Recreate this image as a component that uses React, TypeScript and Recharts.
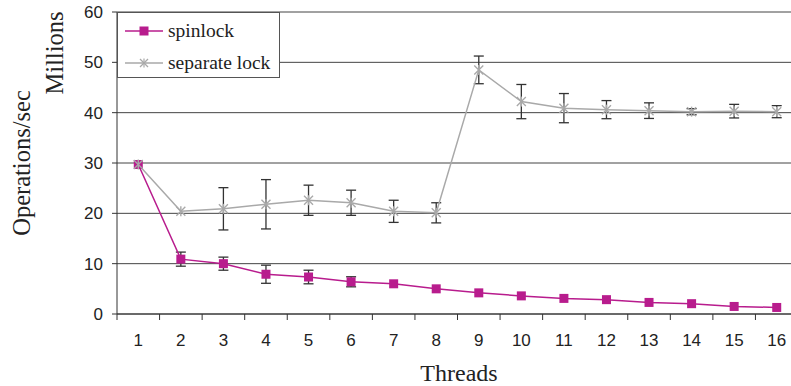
import { LineChart, Line, XAxis, YAxis, CartesianGrid, ErrorBar, Label } from 'recharts';

const threads = [1, 2, 3, 4, 5, 6, 7, 8, 9, 10, 11, 12, 13, 14, 15, 16];
const spinlock = [29.7, 10.9, 10.0, 7.9, 7.35, 6.4, 6.0, 5.0, 4.2, 3.6, 3.1, 2.85, 2.3, 2.05, 1.5, 1.3];
const spinlockErr = [null, 1.4, 1.3, 1.8, 1.35, 1.0, null, null, null, null, null, null, null, null, null, null];
const separateLock = [29.7, 20.4, 20.9, 21.8, 22.6, 22.1, 20.4, 20.1, 48.5, 42.2, 40.9, 40.6, 40.4, 40.2, 40.3, 40.2];
const separateErr = [null, null, 4.2, 4.9, 3.0, 2.5, 2.2, 2.0, 2.75, 3.4, 2.9, 1.8, 1.55, 0.6, 1.35, 1.2];
const yTicks = [0, 10, 20, 30, 40, 50, 60];
const xTicks = [0.5, 1, 1.5, 2, 2.5, 3, 3.5, 4, 4.5, 5, 5.5, 6, 6.5, 7, 7.5, 8, 8.5, 9, 9.5, 10, 10.5, 11, 11.5, 12, 12.5, 13, 13.5, 14, 14.5, 15, 15.5, 16, 16.5];

const data = threads.map((t, i) => ({
  threads: t,
  spinlock: spinlock[i],
  spinErr: spinlockErr[i],
  separate: separateLock[i],
  sepErr: separateErr[i],
}));

const MAGENTA = '#b81c8d';
const GRAY = '#a9a9a9';
const SANS = '"Liberation Sans", Arial, sans-serif';
const SERIF = '"Liberation Serif", "Times New Roman", serif';

const SquareDot = (props: any) => {
  const { cx, cy, index } = props;
  if (cx == null || cy == null) return <g key={`sq-${index}`} />;
  return <rect key={`sq-${index}`} x={cx - 4.5} y={cy - 4.5} width={9} height={9} fill={MAGENTA} />;
};

const StarDot = (props: any) => {
  const { cx, cy, index } = props;
  if (cx == null || cy == null) return <g key={`st-${index}`} />;
  const r = 4.5;
  return (
    <g key={`st-${index}`} stroke={GRAY} strokeWidth={1.4}>
      <line x1={cx - r} y1={cy - r} x2={cx + r} y2={cy + r} />
      <line x1={cx - r} y1={cy + r} x2={cx + r} y2={cy - r} />
      <line x1={cx} y1={cy - r - 0.5} x2={cx} y2={cy + r + 0.5} />
    </g>
  );
};

// half-step ticks carry the tick marks, whole steps carry the labels
const XTick = (props: any) => {
  const { x, y, payload } = props;
  const v = payload.value;
  if (Number.isInteger(v)) {
    return (
      <text x={x} y={y + 32} textAnchor="middle" fontFamily={SANS} fontSize={17} fill="#222">
        {v}
      </text>
    );
  }
  return <line x1={x} y1={y} x2={x} y2={y + 6} stroke="#333" strokeWidth={1} />;
};

export default function App() {
  return (
    <div style={{ position: 'absolute', left: 0, top: 0, width: 791, height: 386, background: '#fff', overflow: 'hidden' }}>
      <LineChart width={791} height={386} data={data} margin={{ top: 12, right: -7, bottom: 0, left: 0 }}>
        <CartesianGrid vertical={false} stroke="#444" strokeWidth={1} />
        <XAxis
          type="number"
          dataKey="threads"
          domain={[0.5, 16.5]}
          ticks={xTicks}
          interval={0}
          height={72}
          tickLine={false}
          tickSize={0}
          tickMargin={0}
          tick={<XTick />}
          axisLine={{ stroke: '#333' }}
        >
          <Label
            content={() => (
              <text x={459} y={381} textAnchor="middle" fontFamily={SERIF} fontSize={24} fill="#222">
                Threads
              </text>
            )}
          />
        </XAxis>
        <YAxis
          domain={[0, 60]}
          ticks={yTicks}
          width={117}
          tickSize={5}
          tickMargin={9}
          tick={{ fontFamily: SANS, fontSize: 17, fill: '#222' }}
          tickLine={{ stroke: '#333' }}
          axisLine={{ stroke: '#333' }}
        >
          <Label
            content={() => (
              <g fontFamily={SERIF} fontSize={24.5} fill="#222">
                <text x={30} y={163} textAnchor="middle" transform="rotate(-90 30 163)">
                  Operations/sec
                </text>
                <text x={63} y={53} textAnchor="middle" transform="rotate(-90 63 53)">
                  Millions
                </text>
              </g>
            )}
          />
        </YAxis>
        <Line
          dataKey="spinlock"
          stroke={MAGENTA}
          strokeWidth={1.5}
          dot={<SquareDot />}
          activeDot={false}
          isAnimationActive={false}
        >
          <ErrorBar dataKey="spinErr" width={5} stroke="#333" strokeWidth={1.3} direction="y" />
        </Line>
        <Line
          dataKey="separate"
          stroke={GRAY}
          strokeWidth={1.5}
          dot={<StarDot />}
          activeDot={false}
          isAnimationActive={false}
        >
          <ErrorBar dataKey="sepErr" width={5} stroke="#333" strokeWidth={1.3} direction="y" />
        </Line>
      </LineChart>
      <div
        style={{
          position: 'absolute',
          left: 117,
          top: 12,
          width: 163,
          height: 66,
          background: '#fff',
          border: '1px solid #555',
          boxSizing: 'border-box',
          fontFamily: SERIF,
          fontSize: 19.5,
          color: '#222',
        }}
      >
        <div style={{ position: 'absolute', left: 7, top: 7, display: 'flex', alignItems: 'center' }}>
          <svg width={38} height={12}>
            <line x1={0} y1={6} x2={38} y2={6} stroke={MAGENTA} strokeWidth={1.5} />
            <rect x={14.5} y={1.5} width={9} height={9} fill={MAGENTA} />
          </svg>
          <span style={{ marginLeft: 5, lineHeight: '22px' }}>spinlock</span>
        </div>
        <div style={{ position: 'absolute', left: 7, top: 39, display: 'flex', alignItems: 'center' }}>
          <svg width={38} height={12}>
            <line x1={0} y1={6} x2={38} y2={6} stroke={GRAY} strokeWidth={1.5} />
            <g stroke={GRAY} strokeWidth={1.2}>
              <line x1={15} y1={2} x2={23} y2={10} />
              <line x1={15} y1={10} x2={23} y2={2} />
              <line x1={19} y1={1.5} x2={19} y2={10.5} />
            </g>
          </svg>
          <span style={{ marginLeft: 5, lineHeight: '22px' }}>separate lock</span>
        </div>
      </div>
    </div>
  );
}
